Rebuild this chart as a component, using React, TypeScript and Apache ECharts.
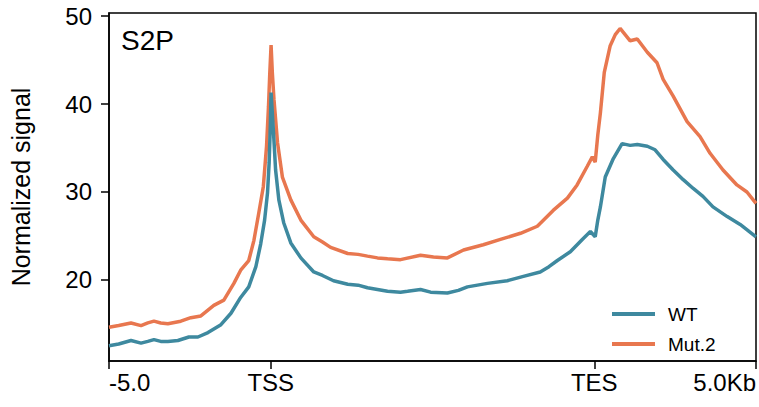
import React, { useEffect, useRef } from "react";
import * as echarts from "echarts";

const FONT = "'Liberation Sans', Arial, Helvetica, sans-serif";

const seriesNames = ["WT", "Mut.2"];
const seriesColors = ["#3e899f", "#e8774f"];

const xTickValues = [0, 500, 1500, 2000];
const xTickLabels = ["-5.0", "TSS", "TES", "5.0Kb"];
const yTickValues = [20, 30, 40, 50];

const wtX = [0, 30, 68, 99, 120, 139, 160, 182, 213, 247, 275, 306, 346, 377, 407, 432, 454, 469, 481, 490, 495, 499, 501, 504, 508, 515, 525, 540, 562, 593, 633, 660, 694, 738, 770, 799, 830, 861, 901, 923, 963, 994, 1046, 1080, 1108, 1170, 1231, 1281, 1333, 1360, 1386, 1426, 1463, 1488, 1503, 1511, 1519, 1534, 1559, 1586, 1611, 1633, 1664, 1688, 1713, 1744, 1775, 1806, 1836, 1867, 1911, 1951, 2000];
const wtY = [12.5, 12.7, 13.1, 12.8, 13.0, 13.2, 13.0, 13.0, 13.1, 13.5, 13.5, 14.0, 14.9, 16.2, 18.0, 19.2, 21.5, 24.1, 26.8, 29.9, 33.3, 37.9, 41.3, 39.5, 37.1, 32.5, 29.1, 26.5, 24.2, 22.5, 20.9, 20.5, 19.9, 19.5, 19.4, 19.1, 18.9, 18.7, 18.6, 18.7, 18.9, 18.6, 18.5, 18.8, 19.2, 19.6, 19.9, 20.4, 20.9, 21.5, 22.2, 23.2, 24.6, 25.5, 24.9, 26.8, 28.3, 31.7, 33.8, 35.5, 35.3, 35.4, 35.2, 34.8, 33.7, 32.5, 31.4, 30.4, 29.5, 28.3, 27.2, 26.3, 24.9];

const mutX = [0, 30, 68, 99, 120, 139, 160, 182, 222, 253, 284, 324, 355, 386, 407, 432, 448, 463, 477, 487, 493, 497, 501, 505, 510, 521, 536, 562, 593, 633, 660, 685, 738, 770, 799, 830, 861, 901, 963, 1003, 1046, 1096, 1157, 1210, 1272, 1324, 1373, 1417, 1447, 1478, 1494, 1503, 1511, 1519, 1531, 1549, 1565, 1580, 1611, 1633, 1664, 1694, 1713, 1744, 1787, 1827, 1858, 1898, 1941, 1972, 2000];
const mutY = [14.6, 14.8, 15.1, 14.8, 15.1, 15.3, 15.1, 15.0, 15.3, 15.7, 15.9, 17.1, 17.7, 19.6, 21.1, 22.2, 24.5, 27.6, 30.6, 35.2, 39.7, 43.5, 46.7, 43.5, 40.5, 35.6, 31.7, 29.1, 26.8, 24.9, 24.3, 23.7, 23.0, 22.9, 22.7, 22.5, 22.4, 22.3, 22.8, 22.6, 22.5, 23.4, 24.0, 24.6, 25.3, 26.1, 27.9, 29.3, 30.8, 32.9, 34.0, 33.4, 36.5, 39.0, 43.6, 46.6, 47.9, 48.6, 47.2, 47.4, 45.9, 44.7, 42.8, 40.9, 38.0, 36.3, 34.4, 32.5, 30.8, 30.0, 28.7];

const pairs = (xs: number[], ys: number[]) => xs.map((x, i) => [x, ys[i]]);

export default function App() {
  const ref = useRef<HTMLDivElement>(null);
  useEffect(() => {
    document.body.style.margin = "0";
    if (!ref.current) return;
    const chart = echarts.init(ref.current, undefined, { renderer: "svg" });
    chart.setOption({
      animation: false,
      textStyle: { fontFamily: FONT },
      grid: {
        left: 108,
        right: 3,
        top: 13,
        bottom: 46,
        show: true,
        borderColor: "#000",
        borderWidth: 1.5,
        backgroundColor: "transparent",
      },
      xAxis: {
        type: "value",
        min: 0,
        max: 2000,
        splitLine: { show: false },
        axisLine: { show: true, lineStyle: { color: "#000", width: 1.5 } },
        axisTick: {
          show: true,
          inside: false,
          length: 8,
          lineStyle: { color: "#000", width: 1.5 },
          customValues: xTickValues,
        },
        axisLabel: {
          customValues: xTickValues,
          formatter: (v: number) => {
            const i = xTickValues.indexOf(v);
            return i >= 0 ? xTickLabels[i] : "";
          },
          alignMinLabel: "left",
          alignMaxLabel: "right",
          color: "#000",
          fontSize: 24,
          fontFamily: FONT,
          margin: 9,
        },
      },
      yAxis: {
        type: "value",
        min: 10.77,
        max: 50.36,
        name: "Normalized signal",
        nameLocation: "middle",
        nameGap: 76,
        nameTextStyle: { fontSize: 25, color: "#000", fontFamily: FONT },
        splitLine: { show: false },
        axisLine: { show: true, lineStyle: { color: "#000", width: 1.5 } },
        axisTick: {
          show: true,
          inside: false,
          length: 8,
          lineStyle: { color: "#000", width: 1.5 },
          customValues: yTickValues,
        },
        axisLabel: {
          customValues: yTickValues,
          color: "#000",
          fontSize: 24,
          fontFamily: FONT,
          margin: 17,
        },
      },
      legend: {
        orient: "vertical",
        left: 607,
        top: 298,
        icon: "rect",
        itemWidth: 43,
        itemHeight: 4,
        itemGap: 8,
        data: seriesNames,
        textStyle: {
          fontSize: 19,
          color: "#000",
          fontFamily: FONT,
          lineHeight: 22,
          padding: [0, 0, 0, 8],
        },
      },
      graphic: [
        {
          type: "text",
          left: 121,
          top: 26,
          style: { text: "S2P", fontSize: 28, fill: "#000", fontFamily: FONT },
        },
      ],
      series: [
        {
          name: seriesNames[0],
          type: "line",
          data: pairs(wtX, wtY),
          showSymbol: false,
          symbol: "none",
          lineStyle: { width: 3.5, color: seriesColors[0] },
          itemStyle: { color: seriesColors[0] },
        },
        {
          name: seriesNames[1],
          type: "line",
          data: pairs(mutX, mutY),
          showSymbol: false,
          symbol: "none",
          lineStyle: { width: 3.5, color: seriesColors[1] },
          itemStyle: { color: seriesColors[1] },
          z: 1,
        },
      ],
    });
    return () => chart.dispose();
  }, []);
  return <div ref={ref} style={{ width: 759, height: 407 }} />;
}
